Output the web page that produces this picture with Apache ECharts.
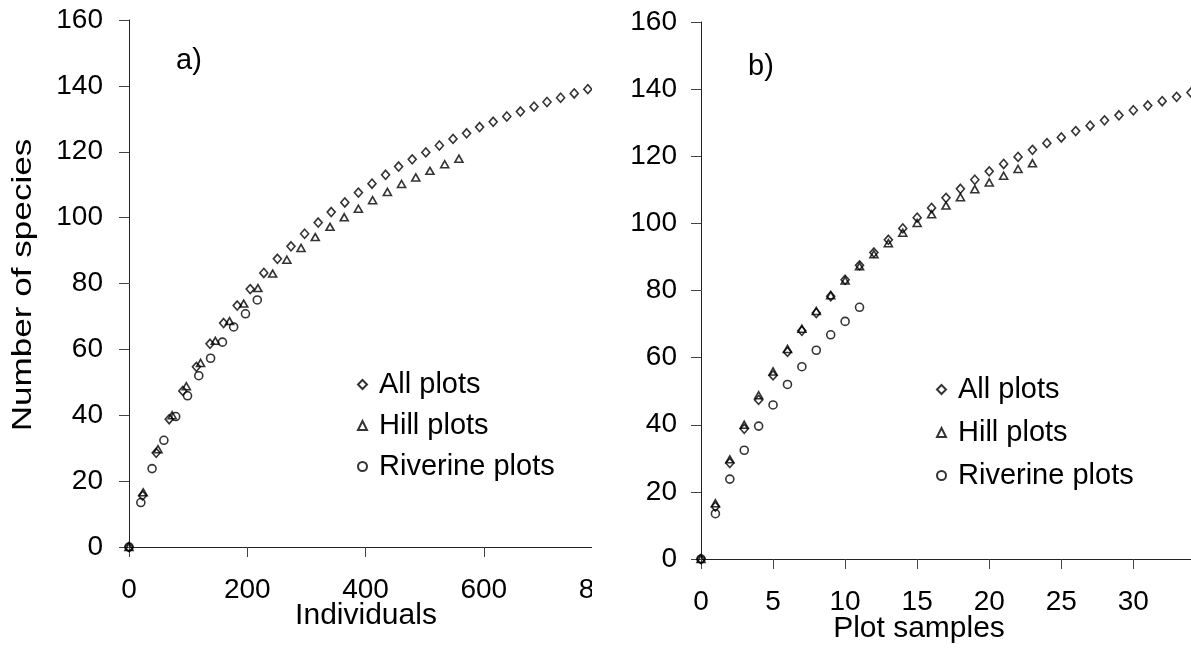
<!DOCTYPE html>
<html>
<head>
<meta charset="utf-8">
<script src="https://cdn.jsdelivr.net/npm/echarts@6/dist/echarts.min.js"></script>
<style>
  html, body { margin: 0; padding: 0; background: #fff; }
  #chart { width: 1191px; height: 650px; }
</style>
</head>
<body>
<div id="chart"></div>
<script>
// Species accumulation curves: expected number of species vs. sampling effort.
var seriesNames = ['All plots', 'Hill plots', 'Riverine plots'];

// Expected species richness after n plots (n = 0, 1, 2, ...)
var allSpecies = [0, 15.6, 28.6, 38.8, 47.4, 54.7, 61.7, 68.0, 73.3, 78.3, 83.2,
  87.5, 91.3, 95.1, 98.5, 101.7, 104.6, 107.6, 110.3, 113.0, 115.5,
  117.7, 119.8, 121.9, 123.9, 125.6, 127.5, 129.1, 130.7, 132.2, 133.7,
  135.1, 136.4, 137.7, 139.0];
var hillSpecies = [0, 16.6, 29.7, 40.0, 48.8, 55.9, 62.6, 68.6, 73.9, 78.6, 83.0,
  87.2, 90.8, 94.1, 97.2, 100.1, 102.7, 105.3, 107.8, 110.2, 112.2,
  114.2, 116.2, 117.9];
var riverineSpecies = [0, 13.5, 23.8, 32.4, 39.6, 45.9, 52.0, 57.3, 62.2, 66.8, 70.8, 75.0];

// Cumulative number of individuals sampled after n plots
var allIndividuals = [0, 23, 46, 68, 91, 114, 137, 160, 183, 205, 228,
  251, 274, 297, 320, 342, 365, 388, 411, 434, 456,
  479, 502, 525, 548, 571, 593, 616, 639, 662, 685,
  707, 730, 753, 776];
var hillIndividuals = [0, 24, 49, 73, 97, 121, 146, 170, 194, 218, 243,
  267, 291, 315, 340, 364, 388, 412, 437, 461, 485,
  509, 534, 558];
var riverineIndividuals = [0, 20, 39, 59, 79, 99, 118, 138, 158, 177, 197, 217];

// Number of plots sampled
var allPlots = [], hillPlots = [], riverinePlots = [];
for (var i = 0; i < allSpecies.length; i++) allPlots.push(i);
for (var j = 0; j < hillSpecies.length; j++) hillPlots.push(j);
for (var k = 0; k < riverineSpecies.length; k++) riverinePlots.push(k);

// Axis ticks
var speciesTicks = { min: 0, max: 160, interval: 20 };
var individualTicks = { min: 0, max: 800, interval: 200 };
var plotTicks = { min: 0, max: 34, interval: 5 };

function zip(xs, ys) {
  return ys.map(function (y, idx) { return [xs[idx], y]; });
}

var FONT = "'Liberation Sans', Arial, Helvetica, sans-serif";
var symbols = ['diamond', 'triangle', 'circle'];
var symbolSizes = [[8, 9], [8, 7], [8, 8]];

function pointSeries(name, idx, gridIdx, data) {
  return {
    type: 'scatter',
    name: name,
    xAxisIndex: gridIdx,
    yAxisIndex: gridIdx,
    data: data,
    symbol: symbols[idx],
    symbolSize: symbolSizes[idx],
    itemStyle: { color: 'rgba(255,255,255,0)', borderColor: '#000', borderWidth: 1.6 },
    emphasis: { disabled: true },
    z: 2 + idx
  };
}

function valueAxis(gridIdx, ticks, extra) {
  var ax = {
    type: 'value',
    gridIndex: gridIdx,
    min: ticks.min,
    max: ticks.max,
    interval: ticks.interval,
    splitLine: { show: false },
    axisLine: { show: true, onZero: false, lineStyle: { color: '#222', width: 1 } },
    axisTick: { show: true, inside: false, length: 10, lineStyle: { color: '#444', width: 1 } },
    axisLabel: { color: '#000', fontSize: 28, fontFamily: FONT }
  };
  for (var key in extra) {
    if (key === 'axisLabel') {
      for (var k2 in extra.axisLabel) ax.axisLabel[k2] = extra.axisLabel[k2];
    } else {
      ax[key] = extra[key];
    }
  }
  return ax;
}

var legendText = { color: '#000', fontSize: 29, fontFamily: FONT, padding: [0, 0, 0, 7] };

var option = {
  backgroundColor: '#fff',
  animation: false,
  grid: [
    { left: 129, top: 20, width: 473, height: 527 },
    { left: 701, top: 22, width: 496, height: 537 }
  ],
  xAxis: [
    valueAxis(0, individualTicks, { axisLabel: { margin: 29 } }),
    valueAxis(1, plotTicks, { axisLabel: { margin: 29, showMaxLabel: false } })
  ],
  yAxis: [
    valueAxis(0, speciesTicks, { axisLabel: { margin: 26 } }),
    valueAxis(1, speciesTicks, { axisLabel: { margin: 24 } })
  ],
  legend: [
    {
      orient: 'vertical', left: 352, top: 365, itemWidth: 9, itemHeight: 9,
      itemGap: 12, selectedMode: false, data: seriesNames, textStyle: legendText
    },
    {
      orient: 'vertical', left: 931, top: 370, itemWidth: 9, itemHeight: 9,
      itemGap: 14, selectedMode: false, data: seriesNames, textStyle: legendText
    }
  ],
  graphic: [
    // right edge of the left panel is cut off
    { type: 'rect', z: 100, shape: { x: 592, y: 0, width: 36, height: 650 }, style: { fill: '#fff' } },
    {
      type: 'text', z: 101, x: 24, y: 285, rotation: Math.PI / 2, scaleX: 1.3,
      style: { text: 'Number of species', fontSize: 27, fontFamily: FONT, fill: '#000', align: 'center', verticalAlign: 'middle' }
    },
    {
      type: 'text', z: 101, x: 366, y: 616,
      style: { text: 'Individuals', fontSize: 30, fontFamily: FONT, fill: '#000', align: 'center', verticalAlign: 'middle' }
    },
    {
      type: 'text', z: 101, x: 919, y: 629,
      style: { text: 'Plot samples', fontSize: 30, fontFamily: FONT, fill: '#000', align: 'center', verticalAlign: 'middle' }
    },
    {
      type: 'text', z: 101, x: 189, y: 61,
      style: { text: 'a)', fontSize: 29, fontFamily: FONT, fill: '#000', align: 'center', verticalAlign: 'middle' }
    },
    {
      type: 'text', z: 101, x: 761, y: 67,
      style: { text: 'b)', fontSize: 29, fontFamily: FONT, fill: '#000', align: 'center', verticalAlign: 'middle' }
    }
  ],
  series: [
    pointSeries(seriesNames[0], 0, 0, zip(allIndividuals, allSpecies)),
    pointSeries(seriesNames[1], 1, 0, zip(hillIndividuals, hillSpecies)),
    pointSeries(seriesNames[2], 2, 0, zip(riverineIndividuals, riverineSpecies)),
    pointSeries(seriesNames[0], 0, 1, zip(allPlots, allSpecies)),
    pointSeries(seriesNames[1], 1, 1, zip(hillPlots, hillSpecies)),
    pointSeries(seriesNames[2], 2, 1, zip(riverinePlots, riverineSpecies))
  ]
};

var chart = echarts.init(document.getElementById('chart'), null, { renderer: 'canvas' });
chart.setOption(option);
</script>
</body>
</html>
